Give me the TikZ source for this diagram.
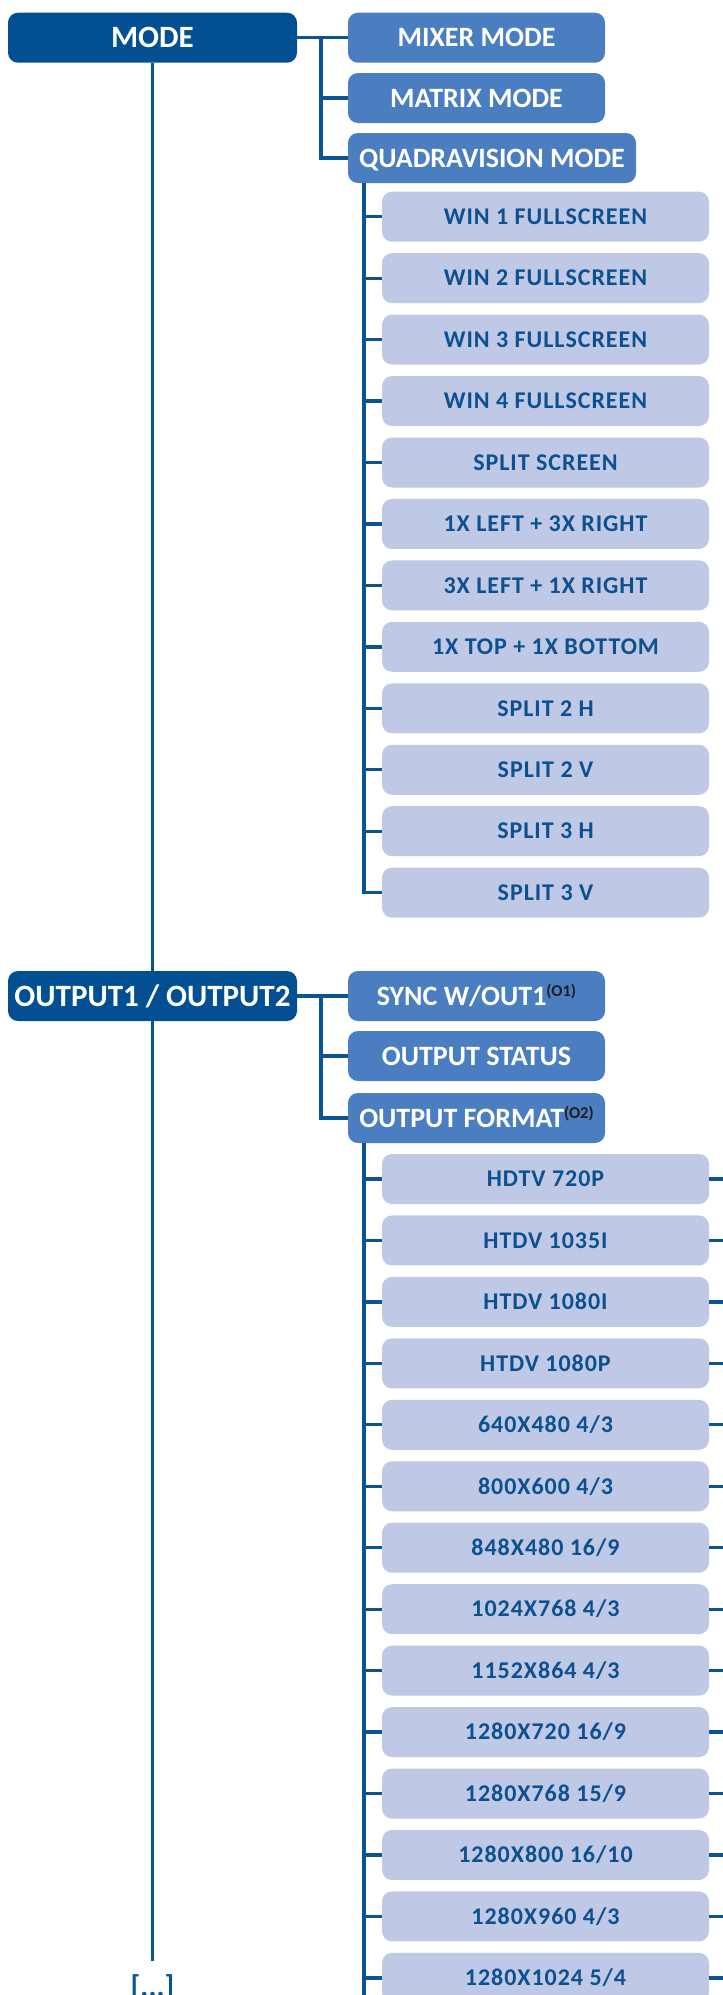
\documentclass[tikz,border=0pt]{standalone}
\usepackage{fontspec}
\setmainfont{Carlito}
\newfontfamily\lightfont[LetterSpace=4]{Carlito}
\usetikzlibrary{calc}
\definecolor{darkbox}{RGB}{2,80,147}
\definecolor{midbox}{RGB}{74,126,192}
\definecolor{lightbox}{RGB}{191,201,230}
\definecolor{linec}{RGB}{10,84,148}
\definecolor{lighttext}{RGB}{12,80,144}
\definecolor{supc}{RGB}{30,30,30}
\newcommand{\supmark}[1]{\raisebox{9pt}{\fontsize{16.5}{16}\selectfont\color{supc}#1}}
\begin{document}
\begin{tikzpicture}[x=1pt,y=-1pt,
  topbox/.style={fill=darkbox, rounded corners=10pt, minimum width=289pt, minimum height=50pt,
    inner sep=0pt, text=white, font=\fontsize{31}{34}\selectfont\bfseries, text height=20pt, text depth=0pt},
  midbox/.style={topbox, fill=midbox, minimum width=257pt, font=\fontsize{28}{32}\selectfont\bfseries, text height=18pt},
  leafbox/.style={fill=lightbox, rounded corners=10pt, minimum width=327pt, minimum height=50pt,
    inner sep=0pt, text=lighttext, font=\lightfont\fontsize{24}{28}\selectfont\bfseries, text height=15.5pt, text depth=0pt},
  link/.style={draw=linec, line width=3.3pt},
  dots/.style={text=linec, font=\fontsize{30}{32}\selectfont\bfseries, inner sep=0pt, anchor=base}]
\useasboundingbox (0,0) rectangle (723,1995);
\coordinate (brA) at (321,0);
\coordinate (qx) at (364,0);
\coordinate (pageright) at (723,0);
\coordinate (pagebottom) at (0,2000);
\coordinate (mainend) at (152.5,1961);

% MODE section
\node[topbox] (mode) at (152.5,37.7) {MODE};
\node[midbox] (mixer) at (476.5,37.7) {MIXER MODE};
\node[midbox] (matrix) at (476.5,98) {MATRIX MODE};
\node[midbox, minimum width=288pt] (quadra) at (492,158) {QUADRAVISION MODE};
\foreach \lab [count=\i] in {WIN 1 FULLSCREEN, WIN 2 FULLSCREEN, WIN 3 FULLSCREEN, WIN 4 FULLSCREEN,
  SPLIT SCREEN, 1X LEFT + 3X RIGHT, 3X LEFT + 1X RIGHT, 1X TOP + 1X BOTTOM,
  SPLIT 2 H, SPLIT 2 V, SPLIT 3 H, SPLIT 3 V}
  \node[leafbox] (q\i) at (545.5,{216.7+61.45*(\i-1)}) {\lab};

% OUTPUT section
\node[topbox] (output) at (152.5,996) {OUTPUT1 / OUTPUT2};
\node[midbox] (sync) at (476.5,996) {SYNC W/OUT1\supmark{(O1)}};
\node[midbox] (status) at (476.5,1056) {OUTPUT STATUS};
\node[midbox] (format) at (476.5,1118) {OUTPUT FORMAT\supmark{(O2)}};
\foreach \lab [count=\i] in {HDTV 720P, HTDV 1035I, HTDV 1080I, HTDV 1080P, 640X480 4/3,
  800X600 4/3, 848X480 16/9, 1024X768 4/3, 1152X864 4/3, 1280X720 16/9, 1280X768 15/9,
  1280X800 16/10, 1280X960 4/3, 1280X1024 5/4}
  \node[leafbox] (f\i) at (545.5,{1179+61.45*(\i-1)}) {\lab};

\node[dots] (more) at (152.5,1996) {[...]};

% connectors
\draw[link] (mode.south) -- (output.north);
\draw[link] (output.south) -- (mainend);
\draw[link] (mode.east) -- (mixer.west);
\draw[link] (mode.east -| brA) |- (matrix.west);
\draw[link] (mode.east -| brA) |- (quadra.west);
\foreach \i in {1,...,12}
  \draw[link] (quadra.south -| qx) |- (q\i.west);

\draw[link] (output.east) -- (sync.west);
\draw[link] (output.east -| brA) |- (status.west);
\draw[link] (output.east -| brA) |- (format.west);
\draw[link] (format.south -| qx) -- (qx |- pagebottom);
\foreach \i in {1,...,14} {
  \draw[link] (f\i.west -| qx) -- (f\i.west);
  \draw[link] (f\i.east) -- (f\i.east -| pageright);
}
\end{tikzpicture}
\end{document}
